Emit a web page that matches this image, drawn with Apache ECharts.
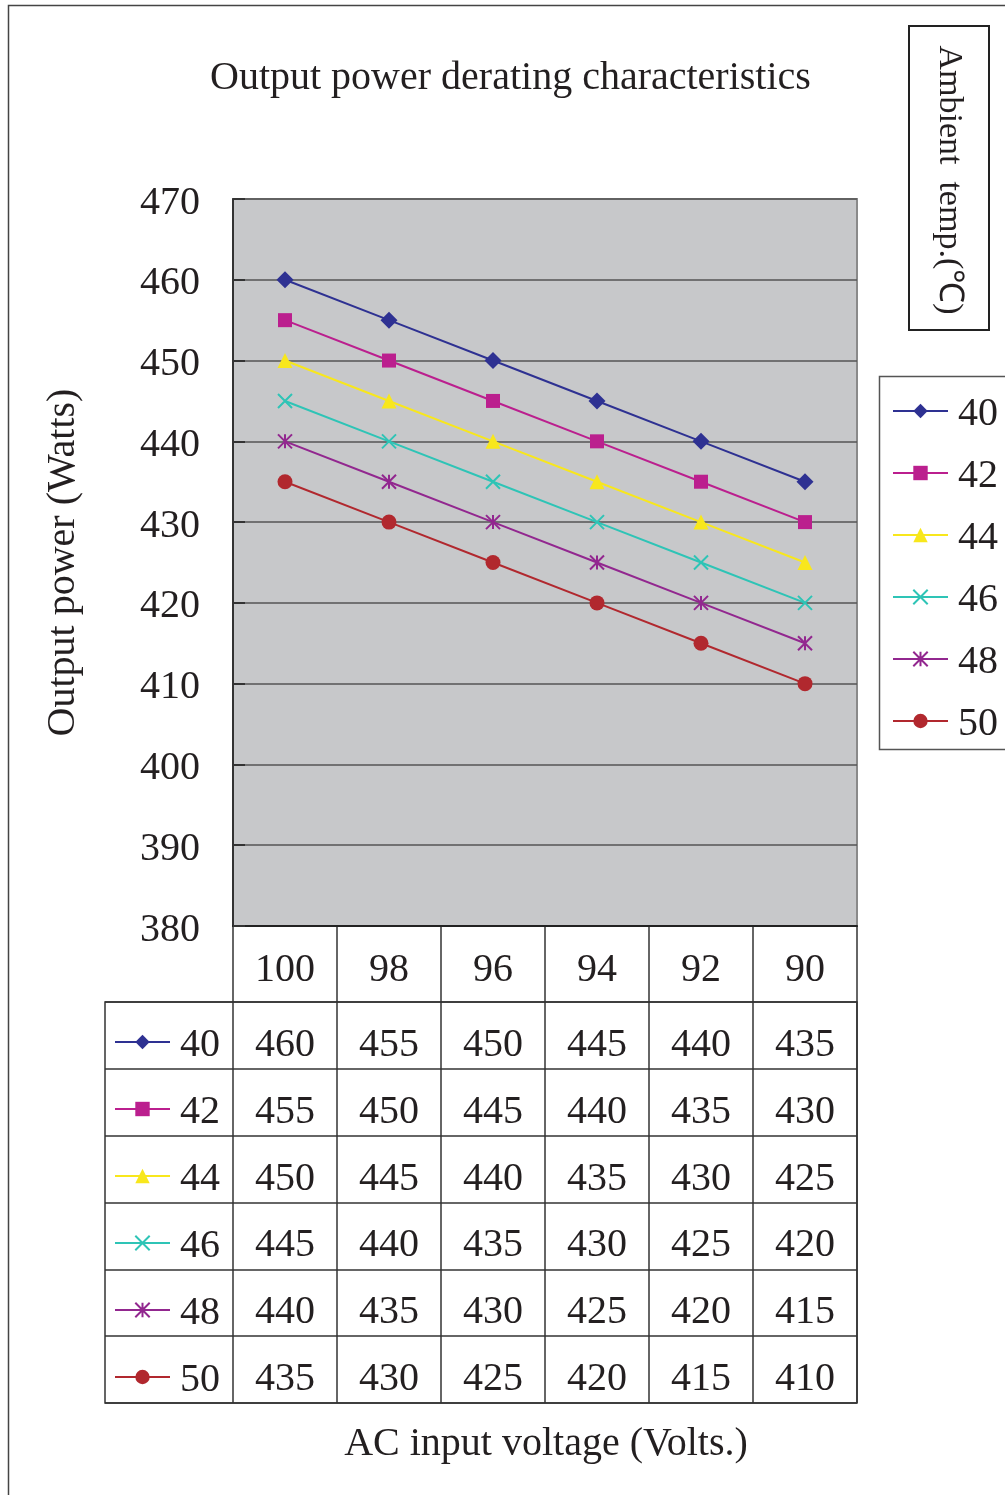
<!DOCTYPE html>
<html><head><meta charset="utf-8">
<script src="https://cdn.jsdelivr.net/npm/echarts@6/dist/echarts.min.js"></script>
<style>html,body{margin:0;padding:0;background:#fff}#c{width:1005px;height:1495px}</style>
</head><body><div id="c"></div>
<script>
// ---- data ----
const categories = ['100', '98', '96', '94', '92', '90'];
const seriesNames = ['40', '42', '44', '46', '48', '50'];
const s40 = [460, 455, 450, 445, 440, 435];
const s42 = [455, 450, 445, 440, 435, 430];
const s44 = [450, 445, 440, 435, 430, 425];
const s46 = [445, 440, 435, 430, 425, 420];
const s48 = [440, 435, 430, 425, 420, 415];
const s50 = [435, 430, 425, 420, 415, 410];
const yMin = 380, yMax = 470, yStep = 10;
const titleText = 'Output power derating characteristics';
const yTitle = 'Output power (Watts)';
const xTitle = 'AC input voltage (Volts.)';
const legendTitle = 'Ambient  temp.(\u2103)';

// ---- styles ----
const FONT = "'Liberation Serif', 'Times New Roman', serif";
const TXT = '#231f20';
const colors = ['#2e3192', '#bb1f8e', '#f8e71c', '#2ec4b6', '#92278f', '#b1282e'];
const symbols = ['diamond', 'rect', 'triangle',
  'path://M0,0L10,10M10,0L0,10',
  'path://M5,0L5,10M0,0L10,10M10,0L0,10',
  'circle'];
const symbolSizes = [17, 14, 15, 14, 14, 15];
const strokeSym = [false, false, false, true, true, false];
const allData = [s40, s42, s44, s46, s48, s50];

const lineSeries = seriesNames.map((n, i) => ({
  name: n, type: 'line', xAxisIndex: 0, yAxisIndex: 0,
  data: allData[i],
  symbol: symbols[i], symbolSize: symbolSizes[i],
  lineStyle: { color: colors[i], width: 2 },
  itemStyle: { color: colors[i], borderColor: colors[i], borderWidth: strokeSym[i] ? 2 : 0 },
  emphasis: { disabled: true },
  z: 5
}));

const cellData = [];
allData.forEach((arr, r) => arr.forEach((v, c) => cellData.push([c, r, v])));

const lineCol = '#333';
const legendCommon = {
  orient: 'vertical', itemWidth: 55, itemHeight: 18,
  data: seriesNames, selectedMode: false,
  lineStyle: { width: 2 },
  formatter: '{t|{name}}',
  textStyle: { fontSize: 40, fontFamily: FONT, color: TXT, padding: [0, 0, 0, 5],
    rich: { t: { fontSize: 40, fontFamily: FONT, color: TXT, lineHeight: 34, padding: [6, 0, 0, 0] } } }
};

const option = {
  animation: false,
  backgroundColor: '#fff',
  title: {
    text: titleText, left: 205, top: 53,
    textStyle: { fontSize: 40, fontWeight: 'normal', fontFamily: FONT, color: TXT }
  },
  legend: [
    Object.assign({ left: 887, top: 383, itemGap: 16 }, legendCommon),
    Object.assign({ left: 109, top: 1014, itemGap: 21 }, legendCommon)
  ],
  grid: [
    { left: 233, top: 199, width: 624, height: 727, show: true, backgroundColor: '#c7c8ca', borderColor: '#8a8a8a', borderWidth: 2 },
    { left: 105, top: 1002, width: 752, height: 401, show: true, backgroundColor: 'transparent', borderColor: lineCol, borderWidth: 1.5 },
    { left: 233, top: 926, width: 624, height: 477, show: false },
    { left: 233, top: 1002, width: 624, height: 401, show: false }
  ],
  xAxis: [
    { gridIndex: 0, type: 'category', data: categories, boundaryGap: true,
      axisLine: { lineStyle: { color: '#222', width: 2 } }, axisTick: { show: false },
      axisLabel: { fontSize: 40, margin: 24, color: TXT, fontFamily: FONT, interval: 0 },
      splitLine: { show: false } },
    { gridIndex: 1, type: 'value', min: 0, max: 1, show: false },
    { gridIndex: 2, type: 'category', data: categories, boundaryGap: true,
      axisLine: { show: false }, axisTick: { show: false }, axisLabel: { show: false },
      splitLine: { show: true, interval: 0, lineStyle: { color: lineCol, width: 1.5 } } },
    { gridIndex: 3, type: 'category', data: categories, show: false }
  ],
  yAxis: [
    { gridIndex: 0, type: 'value', min: yMin, max: yMax, interval: yStep,
      axisLine: { show: true, lineStyle: { color: '#333', width: 2 } },
      axisTick: { show: true, inside: true, length: 12, lineStyle: { color: '#333', width: 2 } },
      axisLabel: { fontSize: 40, margin: 33, color: TXT, fontFamily: FONT, verticalAlign: 'top', lineHeight: 8 },
      splitLine: { show: true, lineStyle: { color: '#555', width: 1.5 } },
      name: yTitle, nameLocation: 'middle', nameGap: 150, nameRotate: 90,
      nameTextStyle: { fontSize: 40, fontFamily: FONT, color: TXT } },
    { gridIndex: 1, type: 'category', data: seriesNames, inverse: true,
      axisLine: { show: false }, axisTick: { show: false }, axisLabel: { show: false },
      splitLine: { show: true, interval: 0, lineStyle: { color: lineCol, width: 1.5 } } },
    { gridIndex: 2, type: 'value', show: false },
    { gridIndex: 3, type: 'category', data: seriesNames, inverse: true, show: false }
  ],
  series: lineSeries.concat([{
    name: 'table', type: 'scatter', xAxisIndex: 3, yAxisIndex: 3,
    data: cellData, symbol: 'rect', symbolSize: 1, silent: true,
    itemStyle: { color: 'rgba(0,0,0,0)', opacity: 1 },
    label: { show: true, position: 'inside', offset: [0, 10], formatter: p => String(p.value[2]),
      fontSize: 40, fontFamily: FONT, color: TXT, opacity: 1 }
  }]),
  graphic: [
    { type: 'rect', shape: { x: 8.5, y: 5.5, width: 1100, height: 1600 }, style: { fill: 'none', stroke: '#444', lineWidth: 1.5 }, silent: true },
    { type: 'rect', shape: { x: 909, y: 26, width: 80, height: 304 }, style: { fill: 'none', stroke: '#222', lineWidth: 2 }, silent: true },
    { type: 'text', x: 949, y: 180, rotation: -Math.PI / 2,
      style: { text: legendTitle, fontSize: 34, fontFamily: FONT, fill: TXT, align: 'center', verticalAlign: 'middle' }, silent: true },
    { type: 'rect', shape: { x: 879.5, y: 376.5, width: 200, height: 373 }, style: { fill: 'none', stroke: '#555', lineWidth: 1.5 }, silent: true },
    { type: 'text', x: 546, y: 1444,
      style: { text: xTitle, fontSize: 40, fontFamily: FONT, fill: TXT, align: 'center', verticalAlign: 'middle' }, silent: true }
  ]
};

const chart = echarts.init(document.getElementById('c'), null, { renderer: 'canvas' });
chart.setOption(option);
</script>
</body></html>
